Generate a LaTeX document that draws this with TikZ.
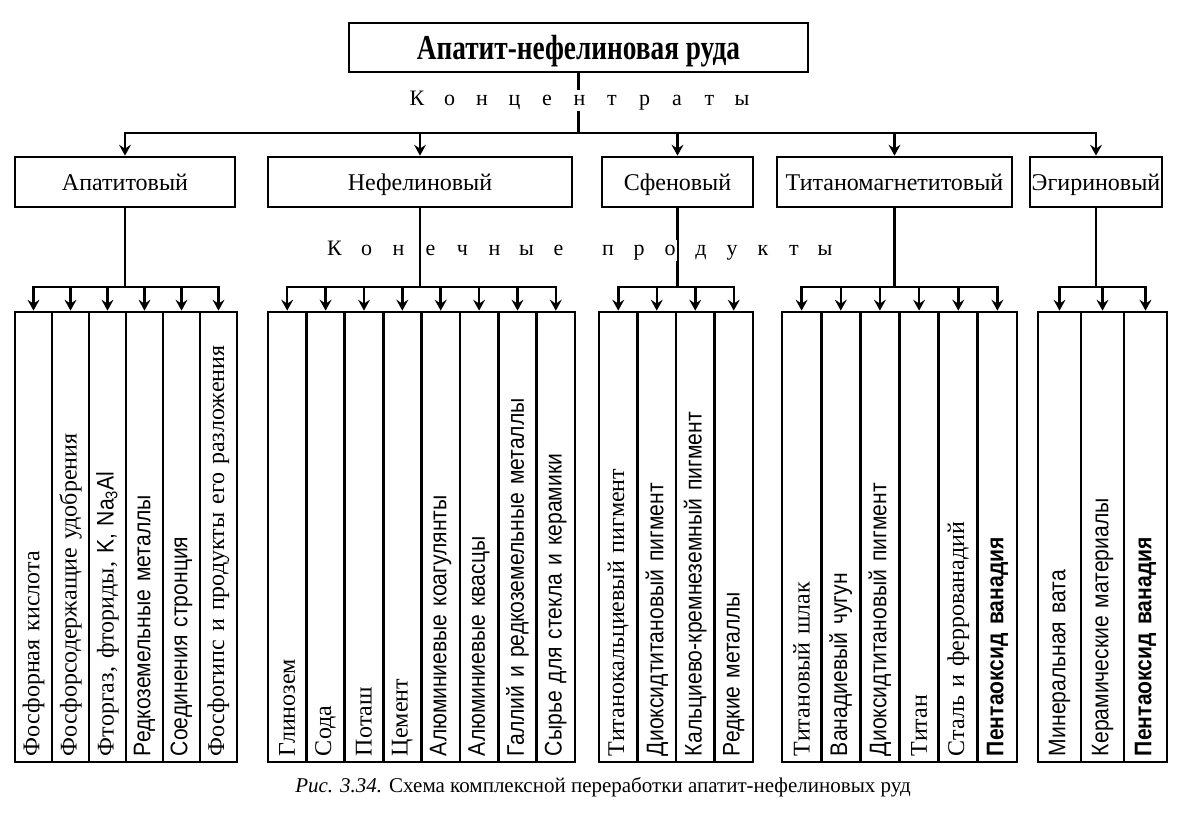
\documentclass[tikz,border=0pt]{standalone}
\usepackage{fontspec}
\setmainfont{Liberation Serif}
\newfontfamily\sansf[FakeStretch=0.88]{Liberation Sans}
\newfontfamily\titlef[FakeStretch=0.78]{Liberation Serif}
\usetikzlibrary{arrows.meta}

\begin{document}
\begin{tikzpicture}[x=1pt,y=-1pt,line width=2.5pt,
  every node/.style={font=\fontsize{24}{26}\selectfont},
  box/.style={draw,line width=2.7pt,minimum height=50pt,inner sep=0pt,text height=19pt,text depth=3pt},
  prod/.style={draw,line width=2.7pt,rotate=90,minimum height=#1,inner ysep=0pt,inner xsep=6pt,text width=438pt,align=left},
  arr/.style={-{Stealth[length=11pt,width=12pt,inset=4pt]}},
  letter/.style={fill=white,inner sep=1pt,text height=15pt,text depth=4pt,font=\fontsize{22}{24}\selectfont}]
\useasboundingbox (0,0) rectangle (1187,819);

% ore and concentrates
\node[box,minimum width=459pt,minimum height=49pt,text height=26pt,text depth=2pt] (ore) at (578.5,47.5) {\titlef\bfseries\fontsize{35}{36}\selectfont Апатит-нефелиновая руда};
\coordinate (cbar) at (0,133);
\coordinate (pbar) at (0,287);
\node[box,minimum width=220pt] (apat) at (125,182) {Апатитовый};
\node[box,minimum width=304pt] (nef) at (420,182) {Нефелиновый};
\node[box,minimum width=151pt] (sfen) at (677.5,182) {Сфеновый};
\node[box,minimum width=235pt] (titan) at (894.5,182) {Титаномагнетитовый};
\node[box,minimum width=132pt] (egir) at (1096,182) {Эгириновый};

\draw (ore.south) -- (ore.south |- cbar);
\draw[arr] (ore.south |- cbar) -| (apat.north);
\draw[arr] (ore.south |- cbar) -| (egir.north);
\draw[arr] (nef.north |- cbar) -- (nef.north);
\draw[arr] (sfen.north |- cbar) -- (sfen.north);
\draw[arr] (titan.north |- cbar) -- (titan.north);

% products: apatite
\node[prod=37pt] (a1) at (33.5,537) {Фосфорная кислота};
\node[prod=37pt] (a2) at (70.5,537) {Фосфорсодержащие удобрения};
\node[prod=37pt] (a3) at (107.5,537) {Фторгаз, фториды, {\sansf K, Na\textsubscript{3}Al}};
\node[prod=37pt] (a4) at (144.5,537) {\sansf Редкоземельные металлы};
\node[prod=37pt] (a5) at (181.5,537) {\sansf Соединения стронция};
\node[prod=37pt] (a6) at (218.5,537) {Фосфогипс и продукты его разложения};

% products: nepheline
\node[prod=38.4pt] (n1) at (287.2,537) {Глинозем};
\node[prod=38.4pt] (n2) at (325.6,537) {Сода};
\node[prod=38.4pt] (n3) at (364.0,537) {Поташ};
\node[prod=38.4pt] (n4) at (402.3,537) {Цемент};
\node[prod=38.4pt] (n5) at (440.7,537) {\sansf Алюминиевые коагулянты};
\node[prod=38.4pt] (n6) at (479.1,537) {\sansf Алюминиевые квасцы};
\node[prod=38.4pt] (n7) at (517.5,537) {\sansf Галлий и редкоземельные металлы};
\node[prod=38.4pt] (n8) at (555.8,537) {\sansf Сырье для стекла и керамики};

% products: sphene
\node[prod=38.5pt] (s1) at (618.25,537) {Титанокальциевый пигмент};
\node[prod=38.5pt] (s2) at (656.75,537) {\sansf Диоксидтитановый пигмент};
\node[prod=38.5pt] (s3) at (695.25,537) {\sansf Кальциево-кремнеземный пигмент};
\node[prod=38.5pt] (s4) at (733.75,537) {\sansf Редкие металлы};

% products: titanomagnetite
\node[prod=39.2pt] (t1) at (801.6,537) {Титановый шлак};
\node[prod=39.2pt] (t2) at (840.8,537) {\sansf Ванадиевый чугун};
\node[prod=39.2pt] (t3) at (879.9,537) {\sansf Диоксидтитановый пигмент};
\node[prod=39.2pt] (t4) at (919.1,537) {Титан};
\node[prod=39.2pt] (t5) at (958.3,537) {Сталь и феррованадий};
\node[prod=39.2pt] (t6) at (997.4,537) {\sansf\bfseries Пентаоксид ванадия};

% products: aegirine
\node[prod=43pt] (g1) at (1059.5,537) {\sansf Минеральная вата};
\node[prod=43pt] (g2) at (1102.5,537) {\sansf Керамические материалы};
\node[prod=43pt] (g3) at (1145.5,537) {\sansf\bfseries Пентаоксид ванадия};

% stems and bars
\draw (apat.south) -- (apat.south |- pbar);
\draw (nef.south) -- (nef.south |- pbar);
\draw (sfen.south) -- (sfen.south |- pbar);
\draw (titan.south) -- (titan.south |- pbar);
\draw (egir.south) -- (egir.south |- pbar);
\draw[line cap=rect] (a1.east |- pbar) -- (a6.east |- pbar);
\draw[line cap=rect] (n1.east |- pbar) -- (n8.east |- pbar);
\draw[line cap=rect] (s1.east |- pbar) -- (s4.east |- pbar);
\draw[line cap=rect] (t1.east |- pbar) -- (t6.east |- pbar);
\draw[line cap=rect] (g1.east |- pbar) -- (g3.east |- pbar);
\foreach \i in {1,...,6} \draw[arr] (a\i.east |- pbar) -- (a\i.east);
\foreach \i in {1,...,8} \draw[arr] (n\i.east |- pbar) -- (n\i.east);
\foreach \i in {1,...,4} \draw[arr] (s\i.east |- pbar) -- (s\i.east);
\foreach \i in {1,...,6} \draw[arr] (t\i.east |- pbar) -- (t\i.east);
\foreach \i in {1,...,3} \draw[arr] (g\i.east |- pbar) -- (g\i.east);

% spaced headings
\foreach \c [count=\i from 0] in {К,о,н,ц,е,н,т,р,а,т,ы}
  \node[letter] (k\i) at (417+32.5*\i,100) {\c};
\foreach \c [count=\i from 0] in {К,о,н,е,ч,н,ы,е}
  \node[letter] (e\i) at (334.5+32*\i,250) {\c};
\foreach \c [count=\i from 0] in {п,р,о,д,у,к,т,ы}
  \node[letter] (f\i) at (608+31*\i,250) {\c};

\node[font=\fontsize{21}{22}\selectfont] (cap) at (603,787) {\textit{Рис. 3.34.} Схема комплексной переработки апатит-нефелиновых руд};
\end{tikzpicture}
\end{document}
